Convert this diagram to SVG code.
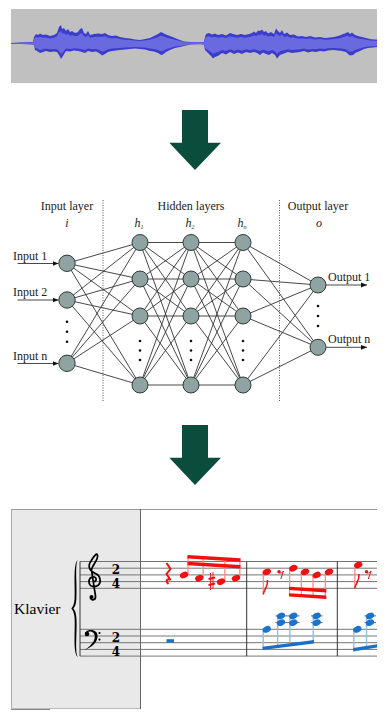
<svg xmlns="http://www.w3.org/2000/svg" width="389" height="720" viewBox="0 0 389 720">
<style>
.lbl{font-family:"Liberation Serif","DejaVu Serif",serif;font-size:12px;fill:#222}
.it{font-family:"Liberation Serif","DejaVu Serif",serif;font-size:12px;font-style:italic;fill:#222}
.edge{stroke:#333;stroke-width:0.9}
.node{fill:#8fa3a3;stroke:#2f3a3a;stroke-width:1}
.dot{fill:#111}
.big{fill:#0b4d3c}
.staff{stroke:#666;stroke-width:0.9}
.rh{fill:#f01010}
.rs{stroke:#ff8a8a;stroke-width:1.3}
.rb{fill:#f01010}
.bh{fill:#1a73cc}
.bs{stroke:#8cc0ea;stroke-width:1.4}
.bb{fill:#1c6fc2}
.ts{font-family:"DejaVu Serif","Liberation Serif",serif;font-size:12px;font-weight:bold;fill:#000}
</style>
<defs>
<marker id="ah" viewBox="0 0 10 10" refX="10" refY="5" markerWidth="6" markerHeight="6" orient="auto" markerUnits="userSpaceOnUse"><path d="M0,1 L10,5 L0,9 z" fill="#111"/></marker>
<clipPath id="sc"><rect x="11" y="500" width="366" height="215"/></clipPath>
<path id="wave" d="M11,43 L20,42.5 L33,42 L34,37 L36,34 L38,35 L40,33.5 L43,35 L46,34.5 L50,36 L54,35 L57,33 L59,27 L61,25 L62,29 L64,28 L66,31 L68,29 L70,32 L72,31 L75,33 L78,32 L80,29 L82,28 L84,33 L86,34 L88,31 L90,35 L94,34 L98,33.5 L102,34 L105,33 L108,35 L112,36 L116,35.5 L120,37 L125,38 L130,38.5 L135,39.5 L140,40 L145,39 L150,38 L154,36 L158,34 L161,32 L163,33 L166,34.5 L170,36 L175,38 L180,40 L184,41.5 L190,42 L200,42.2 L204,42 L205,37 L206,34 L209,33 L212,34.5 L215,33.5 L218,35 L222,34 L226,35.5 L230,33 L233,34 L237,35 L241,34 L245,35 L249,34 L252,33 L254,31.5 L256,33 L258,30.5 L260,31 L262,29.5 L264,32 L266,31 L268,33.5 L271,32 L274,34 L276,28.5 L278,31 L280,33 L282,30 L284,34 L287,32.5 L290,35 L294,34.5 L298,36.5 L302,36 L306,37 L310,36 L315,37.5 L320,37 L325,38 L330,37.5 L334,37 L338,36 L342,34.5 L346,33 L348,32 L350,34 L352,32.5 L355,35 L358,36 L362,37 L366,38 L370,39 L374,39.5 L377,39.5 L377,47 L373,47.5 L368,48 L364,49 L360,51 L356,52.5 L353,55 L350,55.5 L348,54 L346,52 L342,51 L338,50.5 L333,50 L328,50.5 L324,51.5 L320,51 L316,52 L312,51.5 L308,52.5 L304,51 L300,52 L296,52.5 L292,53 L288,52 L284,53.5 L280,55 L277,58.5 L275,55 L272,53 L269,55 L266,54 L263,52.5 L260,55 L257,53 L254,52 L250,53 L246,52 L242,54 L238,52.5 L234,54 L230,52 L226,54.5 L222,53 L218,56 L215,57 L213,58.5 L211,56 L209,54 L207,52 L205,50 L204,44.5 L200,44.3 L190,44.5 L184,46 L180,47 L175,48 L170,50 L166,52 L163,54.5 L161,55 L158,53 L154,51.5 L150,51 L145,49.5 L140,49 L135,48.5 L130,49 L125,49.5 L120,50 L116,50.5 L112,51 L108,52 L105,54 L102,55.5 L99,53 L96,51.5 L92,52 L88,51 L85,53 L82,52 L78,51 L74,50.5 L70,51.5 L66,51 L63,56 L61,59 L59,55 L57,52 L54,51.5 L50,52 L46,51 L43,52 L40,53 L37,51 L35,50 L34,45 L33,44.5 L20,44 L11,44 Z"/>
</defs>

<g id="waveform">
<rect x="11" y="9" width="366" height="74" fill="#c0c0c0"/>
<use href="#wave" fill="#3c3ccc"/>
<use href="#wave" fill="#6a6ae0" transform="translate(0,43.5) scale(1,0.68) translate(0,-43.5)"/>
</g>

<g id="arrow1"><polygon class="big" points="182,110 208,110 208,142.7 221,142.7 195,170 169.3,142.7 182,142.7"/></g>
<g id="arrow2"><polygon class="big" points="182,425 208,425 208,457.7 221,457.7 195,485 169.3,457.7 182,457.7"/></g>

<g id="network-labels">
<text class="lbl" x="67" y="209.5" text-anchor="middle">Input layer</text>
<text class="lbl" x="191" y="209.5" text-anchor="middle">Hidden layers</text>
<text class="lbl" x="318" y="209.5" text-anchor="middle">Output layer</text>
<text class="it" x="67" y="227" text-anchor="middle">i</text>
<text class="it" x="139" y="227" text-anchor="middle">h<tspan font-size="6" dy="2">1</tspan></text>
<text class="it" x="190" y="227" text-anchor="middle">h<tspan font-size="6" dy="2">2</tspan></text>
<text class="it" x="242" y="227" text-anchor="middle">h<tspan font-size="6" dy="2">n</tspan></text>
<text class="it" x="319" y="227" text-anchor="middle">o</text>
<line x1="103" y1="200" x2="103" y2="402" stroke="#555" stroke-width="1" stroke-dasharray="1,1.5"/>
<line x1="279.5" y1="200" x2="279.5" y2="402" stroke="#555" stroke-width="1" stroke-dasharray="1,1.5"/>
</g>

<g id="connectors">
<line class="edge" x1="67" y1="263.3" x2="140" y2="242.5"/><line class="edge" x1="67" y1="263.3" x2="140" y2="279"/><line class="edge" x1="67" y1="263.3" x2="140" y2="316"/><line class="edge" x1="67" y1="263.3" x2="140" y2="385"/>
<line class="edge" x1="67" y1="300" x2="140" y2="242.5"/><line class="edge" x1="67" y1="300" x2="140" y2="279"/><line class="edge" x1="67" y1="300" x2="140" y2="316"/><line class="edge" x1="67" y1="300" x2="140" y2="385"/>
<line class="edge" x1="67" y1="363.3" x2="140" y2="242.5"/><line class="edge" x1="67" y1="363.3" x2="140" y2="279"/><line class="edge" x1="67" y1="363.3" x2="140" y2="316"/><line class="edge" x1="67" y1="363.3" x2="140" y2="385"/>
<line class="edge" x1="140" y1="242.5" x2="191" y2="242.5"/><line class="edge" x1="140" y1="242.5" x2="191" y2="279"/><line class="edge" x1="140" y1="242.5" x2="191" y2="316"/><line class="edge" x1="140" y1="242.5" x2="191" y2="385"/>
<line class="edge" x1="140" y1="279" x2="191" y2="242.5"/><line class="edge" x1="140" y1="279" x2="191" y2="279"/><line class="edge" x1="140" y1="279" x2="191" y2="316"/><line class="edge" x1="140" y1="279" x2="191" y2="385"/>
<line class="edge" x1="140" y1="316" x2="191" y2="242.5"/><line class="edge" x1="140" y1="316" x2="191" y2="279"/><line class="edge" x1="140" y1="316" x2="191" y2="316"/><line class="edge" x1="140" y1="316" x2="191" y2="385"/>
<line class="edge" x1="140" y1="385" x2="191" y2="242.5"/><line class="edge" x1="140" y1="385" x2="191" y2="279"/><line class="edge" x1="140" y1="385" x2="191" y2="316"/><line class="edge" x1="140" y1="385" x2="191" y2="385"/>
<line class="edge" x1="191" y1="242.5" x2="243" y2="242.5"/><line class="edge" x1="191" y1="242.5" x2="243" y2="279"/><line class="edge" x1="191" y1="242.5" x2="243" y2="316"/><line class="edge" x1="191" y1="242.5" x2="243" y2="385"/>
<line class="edge" x1="191" y1="279" x2="243" y2="242.5"/><line class="edge" x1="191" y1="279" x2="243" y2="279"/><line class="edge" x1="191" y1="279" x2="243" y2="316"/><line class="edge" x1="191" y1="279" x2="243" y2="385"/>
<line class="edge" x1="191" y1="316" x2="243" y2="242.5"/><line class="edge" x1="191" y1="316" x2="243" y2="279"/><line class="edge" x1="191" y1="316" x2="243" y2="316"/><line class="edge" x1="191" y1="316" x2="243" y2="385"/>
<line class="edge" x1="191" y1="385" x2="243" y2="242.5"/><line class="edge" x1="191" y1="385" x2="243" y2="279"/><line class="edge" x1="191" y1="385" x2="243" y2="316"/><line class="edge" x1="191" y1="385" x2="243" y2="385"/>
<line class="edge" x1="243" y1="242.5" x2="318" y2="285"/><line class="edge" x1="243" y1="242.5" x2="318" y2="347.3"/>
<line class="edge" x1="243" y1="279" x2="318" y2="285"/><line class="edge" x1="243" y1="279" x2="318" y2="347.3"/>
<line class="edge" x1="243" y1="316" x2="318" y2="285"/><line class="edge" x1="243" y1="316" x2="318" y2="347.3"/>
<line class="edge" x1="243" y1="385" x2="318" y2="285"/><line class="edge" x1="243" y1="385" x2="318" y2="347.3"/>
<line class="edge" x1="17.5" y1="263.5" x2="58.5" y2="263.5" marker-end="url(#ah)"/>
<line class="edge" x1="17.5" y1="300" x2="58.5" y2="300" marker-end="url(#ah)"/>
<line class="edge" x1="17.5" y1="363.5" x2="58.5" y2="363.5" marker-end="url(#ah)"/>
<line class="edge" x1="326" y1="285" x2="367" y2="285" marker-end="url(#ah)"/>
<line class="edge" x1="326" y1="347.3" x2="367" y2="347.3" marker-end="url(#ah)"/>
</g>

<g id="input-layer">
<text class="lbl" x="13" y="259.5">Input 1</text>
<text class="lbl" x="13" y="296">Input 2</text>
<text class="lbl" x="13" y="360">Input n</text>
<circle class="node" cx="67" cy="263.3" r="8.2"/>
<circle class="node" cx="67" cy="300" r="8.2"/>
<circle class="node" cx="67" cy="363.3" r="8.2"/>
<circle class="dot" cx="67" cy="321.7" r="1.3"/><circle class="dot" cx="67" cy="331.7" r="1.3"/><circle class="dot" cx="67" cy="341.7" r="1.3"/>
</g>
<g id="hidden-1">
<circle class="node" cx="140" cy="242.5" r="8"/><circle class="node" cx="140" cy="279" r="8"/><circle class="node" cx="140" cy="316" r="8"/><circle class="node" cx="140" cy="385" r="8"/>
<circle class="dot" cx="140" cy="341" r="1.3"/><circle class="dot" cx="140" cy="350.5" r="1.3"/><circle class="dot" cx="140" cy="360" r="1.3"/>
</g>
<g id="hidden-2">
<circle class="node" cx="191" cy="242.5" r="8"/><circle class="node" cx="191" cy="279" r="8"/><circle class="node" cx="191" cy="316" r="8"/><circle class="node" cx="191" cy="385" r="8"/>
<circle class="dot" cx="191" cy="341" r="1.3"/><circle class="dot" cx="191" cy="350.5" r="1.3"/><circle class="dot" cx="191" cy="360" r="1.3"/>
</g>
<g id="hidden-n">
<circle class="node" cx="243" cy="242.5" r="8"/><circle class="node" cx="243" cy="279" r="8"/><circle class="node" cx="243" cy="316" r="8"/><circle class="node" cx="243" cy="385" r="8"/>
<circle class="dot" cx="243" cy="341" r="1.3"/><circle class="dot" cx="243" cy="350.5" r="1.3"/><circle class="dot" cx="243" cy="360" r="1.3"/>
</g>
<g id="output-layer">
<circle class="node" cx="318" cy="285" r="8"/><circle class="node" cx="318" cy="347.3" r="8"/>
<circle class="dot" cx="318" cy="306" r="1.3"/><circle class="dot" cx="318" cy="316" r="1.3"/><circle class="dot" cx="318" cy="326" r="1.3"/>
<text class="lbl" x="328" y="280.5">Output 1</text>
<text class="lbl" x="328" y="342.5">Output n</text>
</g>

<g id="score" clip-path="url(#sc)">
<rect x="11" y="509" width="130" height="199" fill="#e9e9e9"/>
<line x1="11" y1="509.5" x2="377" y2="509.5" stroke="#999" stroke-width="1"/>
<line x1="11.5" y1="509" x2="11.5" y2="709" stroke="#aaa" stroke-width="1"/>
<line x1="140.5" y1="509" x2="140.5" y2="709" stroke="#666" stroke-width="1"/>
<line x1="11" y1="708.5" x2="140" y2="708.5" stroke="#bbb" stroke-width="1"/>
<line x1="11" y1="709.5" x2="50" y2="709.5" stroke="#888" stroke-width="1"/>
<text x="14" y="613.5" font-family="Liberation Serif, DejaVu Serif, serif" font-size="15.5" fill="#000">Klavier</text>
<g id="staves">
<line class="staff" x1="80" y1="561.5" x2="377" y2="561.5"/><line class="staff" x1="80" y1="568.2" x2="377" y2="568.2"/><line class="staff" x1="80" y1="574.9" x2="377" y2="574.9"/><line class="staff" x1="80" y1="581.6" x2="377" y2="581.6"/><line class="staff" x1="80" y1="588.3" x2="377" y2="588.3"/>
<line class="staff" x1="80" y1="629.3" x2="377" y2="629.3"/><line class="staff" x1="80" y1="636" x2="377" y2="636"/><line class="staff" x1="80" y1="642.7" x2="377" y2="642.7"/><line class="staff" x1="80" y1="649.4" x2="377" y2="649.4"/><line class="staff" x1="80" y1="656.1" x2="377" y2="656.1"/>
<line x1="80" y1="561.5" x2="80" y2="656.1" stroke="#333" stroke-width="1"/>
<line x1="246.7" y1="561.5" x2="246.7" y2="656.1" stroke="#333" stroke-width="1"/>
<line x1="337.3" y1="561.5" x2="337.3" y2="656.1" stroke="#333" stroke-width="1"/>
</g>
<path d="M78,560 C72.5,563 75.5,588 74.5,600 C74,604 73,607 71.3,608.5 C73,610 74,613 74.5,617 C75.5,629 72.5,654 78,657 C74.5,653 77.5,630 76.3,617 C76,613 75,610 73.3,608.5 C75,607 76,604 76.3,600 C77.5,587 74.5,563 78,560 Z" fill="#000"/>
<g id="treble-clef" fill="none" stroke="#000" stroke-width="1.7" stroke-linecap="round">
<path d="M94,581.5 C96.5,581.5 97,578 94.5,577 C91,576 88.5,579 89,582.5 C89.5,586.5 95,588 98.5,585 C101.5,582 100.5,575.5 95.5,573.5 C90,571 87,567 91,561 C94,556 97,552 97.5,555.5 C98.5,560 92,565 91.5,570 L95.5,596 C96,600 91.5,601 90.5,598"/>
<circle cx="91.5" cy="597" r="2" fill="#000" stroke="none"/>
</g>
<g id="bass-clef">
<path d="M85,634 C85.5,628.5 98.5,628 97.5,637 C96.8,643.5 91,647.5 84.5,650 C90,646.5 94.5,642 94.8,637 C95,631 88,630 86,634 Z" fill="#000"/>
<circle cx="87" cy="634" r="2.3" fill="#000"/>
<circle cx="99.5" cy="633" r="1.1" fill="#000"/><circle cx="99.5" cy="639.6" r="1.1" fill="#000"/>
</g>
<text class="ts" x="116" y="573.8" text-anchor="middle">2</text>
<text class="ts" x="116" y="588" text-anchor="middle">4</text>
<text class="ts" x="116" y="641.6" text-anchor="middle">2</text>
<text class="ts" x="116" y="655.8" text-anchor="middle">4</text>

<g id="treble-notes">
<path d="M166.5,563 L170.5,569 L166.5,574 L170.5,580 C167,578 165,580.5 168.5,584" fill="none" stroke="#f01010" stroke-width="2"/>
<line class="rs" x1="188" y1="575" x2="188" y2="556"/><line class="rs" x1="203.1" y1="577.3" x2="203.1" y2="557"/><line class="rs" x1="224.8" y1="581.6" x2="224.8" y2="557.6"/><line class="rs" x1="239.8" y1="577.3" x2="239.8" y2="558.5"/>
<polygon class="rb" points="187.5,555 240.5,558.3 240.5,561.8 187.5,558.5"/>
<polygon class="rb" points="187.5,561.7 240.5,565 240.5,568.5 187.5,565.2"/>
<ellipse class="rh" cx="184" cy="575" rx="4.3" ry="3.1" transform="rotate(-22 184 575)"/>
<ellipse class="rh" cx="199.3" cy="578.2" rx="4.3" ry="3.1" transform="rotate(-22 199.3 578.2)"/>
<ellipse class="rh" cx="221" cy="581.6" rx="4.3" ry="3.1" transform="rotate(-22 221 581.6)"/>
<ellipse class="rh" cx="236" cy="578.2" rx="4.3" ry="3.1" transform="rotate(-22 236 578.2)"/>
<g stroke="#f01010"><line x1="210.5" y1="573" x2="210.5" y2="590" stroke-width="0.9"/><line x1="213" y1="572" x2="213" y2="589" stroke-width="0.9"/><line x1="208.5" y1="579" x2="215" y2="577.5" stroke-width="1.8"/><line x1="208.5" y1="585" x2="215" y2="583.5" stroke-width="1.8"/></g>

<line class="rs" x1="263.3" y1="572" x2="263.3" y2="594"/>
<path d="M263.3,594.5 C263.8,589 268.5,587 267.5,580" fill="none" stroke="#f01010" stroke-width="1.5"/>
<ellipse class="rh" cx="266.8" cy="571.9" rx="4.3" ry="3.1" transform="rotate(-22 266.8 571.9)"/>
<circle cx="279" cy="571.8" r="1.7" fill="#f01010"/>
<path d="M279,572.5 C280.5,574 282.5,572.5 283.5,571 L280.8,579" fill="none" stroke="#f01010" stroke-width="1"/>

<line class="rs" x1="289.6" y1="568.2" x2="289.6" y2="596"/><line class="rs" x1="301.3" y1="571.9" x2="301.3" y2="597"/><line class="rs" x1="313" y1="575" x2="313" y2="598"/><line class="rs" x1="325.3" y1="571.9" x2="325.3" y2="599"/>
<polygon class="rb" points="289,586.7 326.3,589 326.3,592.4 289,590"/>
<polygon class="rb" points="289,593.3 326.3,595.6 326.3,599 289,596.6"/>
<ellipse class="rh" cx="293.3" cy="568.2" rx="4.3" ry="3.1" transform="rotate(-22 293.3 568.2)"/>
<ellipse class="rh" cx="305" cy="571.9" rx="4.3" ry="3.1" transform="rotate(-22 305 571.9)"/>
<ellipse class="rh" cx="316.7" cy="575" rx="4.3" ry="3.1" transform="rotate(-22 316.7 575)"/>
<ellipse class="rh" cx="329" cy="571.9" rx="4.3" ry="3.1" transform="rotate(-22 329 571.9)"/>

<line class="rs" x1="354.8" y1="565" x2="354.8" y2="588"/>
<path d="M354.8,588.5 C355.3,583 360,581 359,574" fill="none" stroke="#f01010" stroke-width="1.5"/>
<ellipse class="rh" cx="358.3" cy="564.9" rx="4.3" ry="3.1" transform="rotate(-22 358.3 564.9)"/>
<circle cx="366.5" cy="571.8" r="1.7" fill="#f01010"/>
<path d="M366.5,572.5 C368,574 370,572.5 371,571 L368.3,579" fill="none" stroke="#f01010" stroke-width="1"/>
</g>

<g id="bass-notes">
<rect class="bb" x="166.5" y="639.2" width="7.5" height="3.5"/>
<g stroke="#555" stroke-width="0.9"><line x1="275.5" y1="615.9" x2="299.5" y2="615.9"/><line x1="275.5" y1="622.6" x2="299.5" y2="622.6"/><line x1="311" y1="615.9" x2="322.5" y2="615.9"/><line x1="311" y1="622.6" x2="322.5" y2="622.6"/><line x1="364.5" y1="615.9" x2="376" y2="615.9"/><line x1="364.5" y1="622.6" x2="376" y2="622.6"/></g>
<line class="bs" x1="263.2" y1="629.3" x2="263.2" y2="648"/><line class="bs" x1="277.6" y1="615.9" x2="277.6" y2="646"/><line class="bs" x1="289.9" y1="615.9" x2="289.9" y2="644.5"/><line class="bs" x1="313.2" y1="615.9" x2="313.2" y2="641.5"/>
<polygon class="bb" points="262.5,646.7 314,640 314,643.4 262.5,650.1"/>
<ellipse class="bh" cx="266.7" cy="629.3" rx="4.3" ry="3.1" transform="rotate(-22 266.7 629.3)"/>
<ellipse class="bh" cx="281" cy="615.9" rx="4.3" ry="3.1" transform="rotate(-22 281 615.9)"/><ellipse class="bh" cx="281" cy="622.6" rx="4.3" ry="3.1" transform="rotate(-22 281 622.6)"/>
<ellipse class="bh" cx="293.3" cy="615.9" rx="4.3" ry="3.1" transform="rotate(-22 293.3 615.9)"/><ellipse class="bh" cx="293.3" cy="622.6" rx="4.3" ry="3.1" transform="rotate(-22 293.3 622.6)"/>
<ellipse class="bh" cx="316.7" cy="615.9" rx="4.3" ry="3.1" transform="rotate(-22 316.7 615.9)"/><ellipse class="bh" cx="316.7" cy="622.6" rx="4.3" ry="3.1" transform="rotate(-22 316.7 622.6)"/>
<line class="bs" x1="353.8" y1="629.3" x2="353.8" y2="649"/><line class="bs" x1="366.5" y1="615.9" x2="366.5" y2="647"/>
<polygon class="bb" points="353.2,648 378,644 378,647.4 353.2,651.4"/>
<ellipse class="bh" cx="357.3" cy="629.3" rx="4.3" ry="3.1" transform="rotate(-22 357.3 629.3)"/>
<ellipse class="bh" cx="370" cy="615.9" rx="4.3" ry="3.1" transform="rotate(-22 370 615.9)"/><ellipse class="bh" cx="370" cy="622.6" rx="4.3" ry="3.1" transform="rotate(-22 370 622.6)"/>
</g>
</g>
</svg>
